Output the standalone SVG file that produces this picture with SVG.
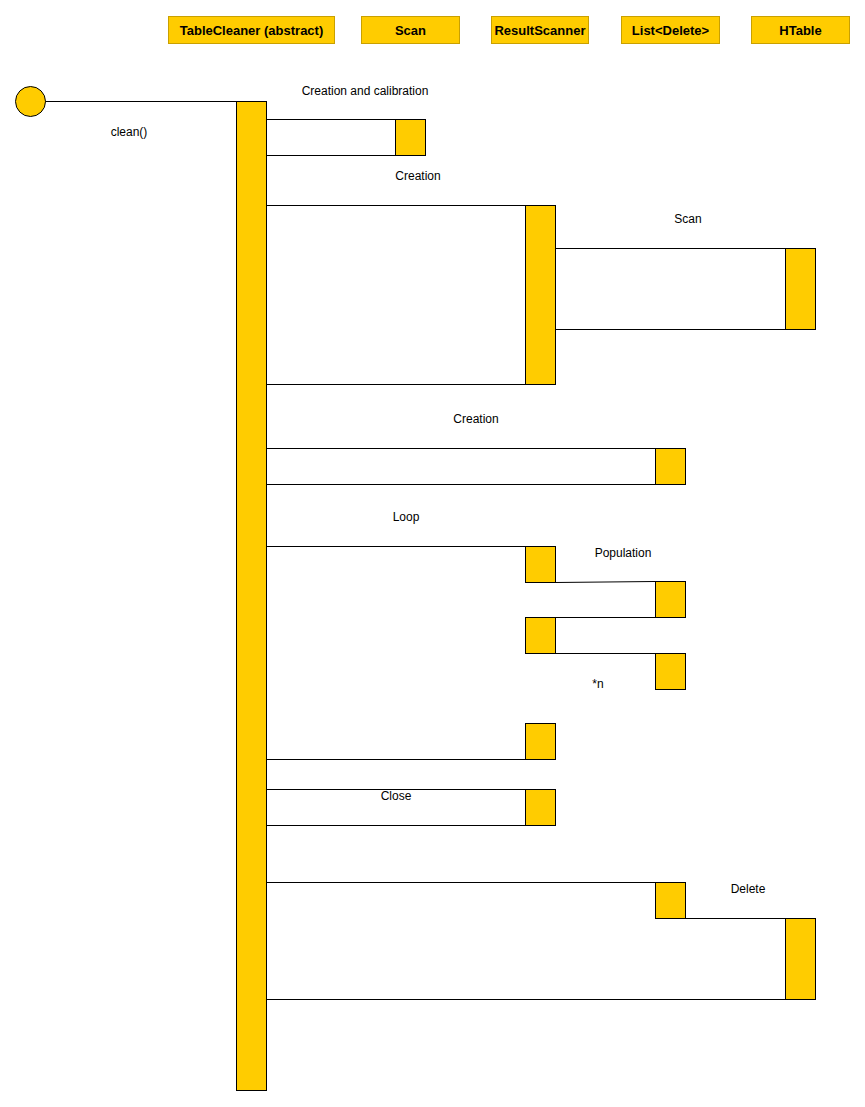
<svg xmlns="http://www.w3.org/2000/svg" width="865" height="1107" viewBox="0 0 865 1107">
<style>
.hdr{fill:#ffcc00;stroke:#c9a000;stroke-width:1}
.ht{font-family:"Liberation Sans",Arial,sans-serif;font-size:13px;font-weight:bold;text-anchor:middle;fill:#000}
.act{fill:#ffcc00;stroke:#000;stroke-width:1}
.msg{stroke:#000;stroke-width:1;fill:none}
.lbl{font-family:"Liberation Sans",Arial,sans-serif;font-size:12px;text-anchor:middle;fill:#000}
</style>
<rect width="865" height="1107" fill="#fff"/>
<g id="hdr-tablecleaner"><rect class="hdr" x="168.5" y="16.5" width="166" height="27"/><text class="ht" x="251.5" y="34.5">TableCleaner (abstract)</text></g>
<g id="hdr-scan"><rect class="hdr" x="361.5" y="16.5" width="98" height="27"/><text class="ht" x="410.5" y="34.5">Scan</text></g>
<g id="hdr-resultscanner"><rect class="hdr" x="491.5" y="16.5" width="97" height="27"/><text class="ht" x="540" y="34.5">ResultScanner</text></g>
<g id="hdr-list"><rect class="hdr" x="621.5" y="16.5" width="98" height="27"/><text class="ht" x="670.5" y="34.5">List&lt;Delete&gt;</text></g>
<g id="hdr-htable"><rect class="hdr" x="751.5" y="16.5" width="98" height="27"/><text class="ht" x="800.5" y="34.5">HTable</text></g>

<g id="connectors">
<line class="msg" x1="45" y1="101.5" x2="236" y2="101.5"/>
<polyline class="msg" points="266,119.5 395,119.5"/>
<polyline class="msg" points="266,155.5 395,155.5"/>
<polyline class="msg" points="266,205.5 525,205.5"/>
<polyline class="msg" points="266,384.5 525,384.5"/>
<polyline class="msg" points="555,248.5 785,248.5"/>
<polyline class="msg" points="555,329.5 785,329.5"/>
<polyline class="msg" points="266,448.5 655,448.5"/>
<polyline class="msg" points="266,484.5 655,484.5"/>
<polyline class="msg" points="266,546.5 525,546.5"/>
<polyline class="msg" points="555,582.5 655,581.5"/>
<polyline class="msg" points="555,617.5 655,617.5"/>
<polyline class="msg" points="555,653.5 655,653.5"/>
<polyline class="msg" points="266,759.5 525,759.5"/>
<polyline class="msg" points="266,789.5 525,789.5"/>
<polyline class="msg" points="266,825.5 525,825.5"/>
<polyline class="msg" points="266,882.5 655,882.5"/>
<polyline class="msg" points="685,918.5 785,918.5"/>
<polyline class="msg" points="266,999.5 785,999.5"/>
</g>

<g id="start"><circle cx="30.5" cy="101.5" r="15" fill="#ffcc00" stroke="#000" stroke-width="1"/></g>
<g id="act-main"><rect class="act" x="236.5" y="101.5" width="30" height="989"/></g>
<g id="act-calib"><rect class="act" x="395.5" y="119.5" width="30" height="36"/></g>
<g id="act-scan-create"><rect class="act" x="525.5" y="205.5" width="30" height="179"/></g>
<g id="act-htable-scan"><rect class="act" x="785.5" y="248.5" width="30" height="81"/></g>
<g id="act-list-create"><rect class="act" x="655.5" y="448.5" width="30" height="36"/></g>
<g id="act-rs-loop1"><rect class="act" x="525.5" y="546.5" width="30" height="36"/></g>
<g id="act-list-pop1"><rect class="act" x="655.5" y="581.5" width="30" height="36"/></g>
<g id="act-rs-loop2"><rect class="act" x="525.5" y="617.5" width="30" height="36"/></g>
<g id="act-list-pop2"><rect class="act" x="655.5" y="653.5" width="30" height="36"/></g>
<g id="act-rs-end"><rect class="act" x="525.5" y="723.5" width="30" height="36"/></g>
<g id="act-rs-close"><rect class="act" x="525.5" y="789.5" width="30" height="36"/></g>
<g id="act-list-delete"><rect class="act" x="655.5" y="882.5" width="30" height="36"/></g>
<g id="act-htable-delete"><rect class="act" x="785.5" y="918.5" width="30" height="81"/></g>

<g id="labels">
<text class="lbl" x="365" y="95">Creation and calibration</text>
<text class="lbl" x="129" y="136">clean()</text>
<text class="lbl" x="418" y="180">Creation</text>
<text class="lbl" x="688" y="223">Scan</text>
<text class="lbl" x="476" y="423">Creation</text>
<text class="lbl" x="406" y="521">Loop</text>
<text class="lbl" x="623" y="557">Population</text>
<text class="lbl" x="598" y="688">*n</text>
<text class="lbl" x="396" y="800">Close</text>
<text class="lbl" x="748" y="893">Delete</text>
</g>
</svg>
